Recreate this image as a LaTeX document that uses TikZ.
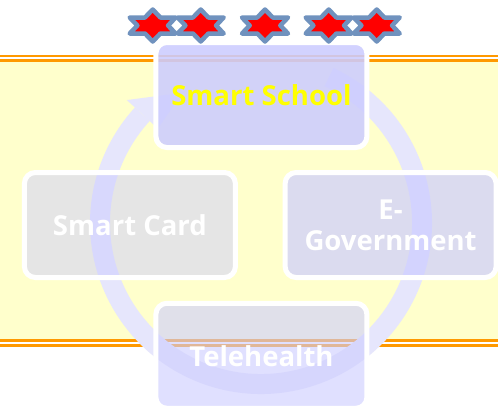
\documentclass[tikz,border=0pt]{standalone}
\usepackage{fontspec}
\setmainfont{Open Sans}
\definecolor{lav}{RGB}{204,204,255}
\definecolor{arcc}{RGB}{230,230,252}
\definecolor{bandy}{RGB}{255,255,204}
\definecolor{bando}{RGB}{255,153,0}
\definecolor{starline}{RGB}{112,146,190}
\definecolor{starfill}{RGB}{255,0,0}
\definecolor{ytext}{RGB}{255,255,0}
\begin{document}
\begin{tikzpicture}[x=1pt,y=-1pt,
  boxnode/.style={draw=white, line width=5pt, rounded corners=11pt,
    minimum width=211pt, minimum height=105pt, fill=lav, inner sep=0pt,
    text opacity=1, text=white, align=center,
    font=\fontsize{27.5pt}{31pt}\selectfont\bfseries},
  bandline/.style={draw=bando, line width=2.6pt},
  hexstar/.style={draw=starline, fill=starfill, line width=4.5pt, line join=round},
  cyclearc/.style={draw=arcc, line width=20pt},
]
\useasboundingbox (0,0) rectangle (498,405);
\fill[white] (0,0) rectangle (498,405);
% band
\fill[bandy] (0,61.5) rectangle (498,339.5);
\draw[bandline] (0,56) -- (498,56);
\draw[bandline] (0,60.5) -- (498,60.5);
\draw[bandline] (0,340.7) -- (498,340.7);
\draw[bandline] (0,345.3) -- (498,345.3);
% cycle arrow
\coordinate (c) at (261,223);
\draw[cyclearc] ([shift={(-65:161)}]c) arc[start angle=-65, end angle=222.5, radius=161];
\fill[arcc, shift={(c)}] (-137.5:182) -- (-121:152) -- (-137.5:140) -- cycle;
% boxes
\node[boxnode, fill opacity=0.88, text=ytext] (school) at (261.4,95) {Smart School};
\node[boxnode, fill opacity=0.5] (card) at (129.9,225) {Smart Card};
\node[boxnode, fill opacity=0.7] (egov) at (390.6,225) {E-\\Government};
\node[boxnode, fill opacity=0.6] (tele) at (261.4,355.8) {Telehealth};
% stars
\foreach \sx/\nm in {152.7/s1,200.7/s2,265/s3,328.7/s4,376.7/s5}{
  \coordinate (\nm) at (\sx,25.5);
  \draw[hexstar, shift={(\nm)}] (0,-16) -- (7.7,-8) -- (23,-8) -- (15.3,0) -- (23,8)
    -- (7.7,8) -- (0,16) -- (-7.7,8) -- (-23,8) -- (-15.3,0) -- (-23,-8)
    -- (-7.7,-8) -- cycle;
}
\end{tikzpicture}
\end{document}
